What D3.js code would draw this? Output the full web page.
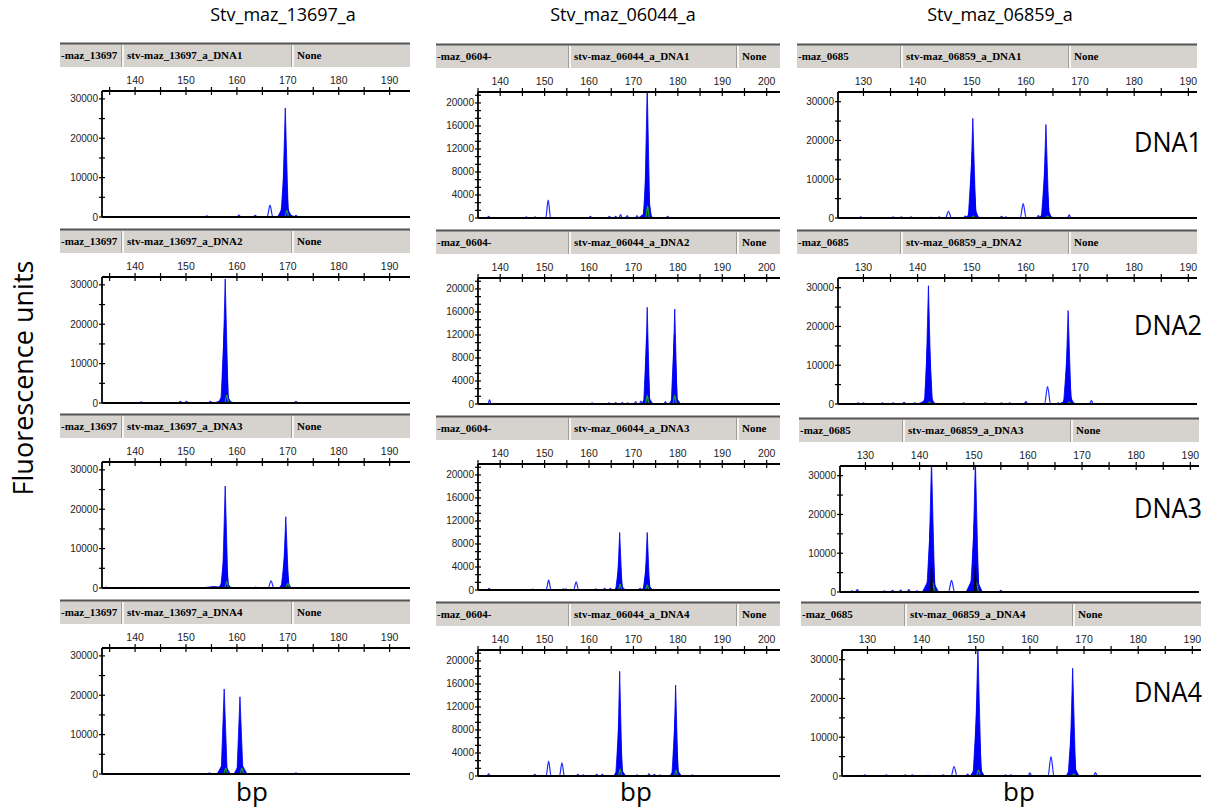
<!DOCTYPE html>
<html>
<head>
<meta charset="utf-8">
<script src="https://cdn.jsdelivr.net/npm/d3@7"></script>
<style>
  body { margin: 0; background: #fff; }
  svg { display: block; }
</style>
</head>
<body>
<div id="chart"></div>
<script>
const width = 1213;
const height = 809;

// ---- data ----
const markers = ["Stv_maz_13697_a", "Stv_maz_06044_a", "Stv_maz_06859_a"];
const samples = ["DNA1", "DNA2", "DNA3", "DNA4"];
const shortNames = ["-maz_13697", "-maz_0604-", "-maz_0685"];
const longNames = ["stv-maz_13697_a_", "stv-maz_06044_a_", "stv-maz_06859_a_"];
const bpLabels = [
  [140, 150, 160, 170, 180, 190],
  [140, 150, 160, 170, 180, 190, 200],
  [130, 140, 150, 160, 170, 180, 190]
];
const bpMinor = [
  [135, 145, 155, 165, 175, 185],
  [135, 145, 155, 165, 175, 185, 195],
  [135, 145, 155, 165, 175, 185]
];
const yLabels = [
  [0, 10000, 20000, 30000],
  [0, 4000, 8000, 12000, 16000, 20000],
  [0, 10000, 20000, 30000]
];
const yMax = [32000, 21900, 32500];
const bpRange = [[133.5, 194], [135, 203], [125.3, 191.6]];

// filled (sized) peaks: [bp, height, half-width in bp]
const filled = [
  [ // 13697
    [[169.5, 27700, 0.6], [169.4, 14000, 0.8], [169.4, 3500, 1.4], [169.6, 800, 2.0]],
    [[157.7, 31500, 0.6], [157.6, 21000, 0.75], [157.6, 3000, 1.3], [157.5, 800, 2.1]],
    [[157.7, 25900, 0.55], [157.6, 10000, 0.8], [157.6, 2000, 1.3], [155.5, 400, 2.6],
     [169.6, 18100, 0.55], [169.5, 10000, 0.8], [169.5, 2200, 1.2]],
    [[157.5, 21600, 0.6], [157.4, 3000, 1.3], [160.6, 19600, 0.6], [160.7, 3000, 1.3]]
  ],
  [ // 06044
    [[173.1, 23000, 0.6], [173.0, 10000, 0.8], [173.1, 4900, 1.0], [172.8, 1000, 1.7]],
    [[173.1, 16800, 0.55], [173.0, 12000, 0.7], [173.1, 1500, 1.3],
     [179.3, 16500, 0.55], [179.2, 12000, 0.7], [179.3, 1500, 1.3]],
    [[166.9, 10000, 0.55], [166.8, 5000, 0.8], [166.9, 1000, 1.3],
     [173.1, 10000, 0.55], [173.0, 5000, 0.8], [173.1, 1000, 1.3]],
    [[166.9, 18200, 0.55], [166.8, 10000, 0.8], [166.9, 1500, 1.4],
     [179.5, 15800, 0.55], [179.4, 10000, 0.75], [179.5, 1500, 1.3]]
  ],
  [ // 06859
    [[150.2, 25700, 0.55], [150.1, 17000, 0.75], [150.2, 3500, 1.1], [150.0, 800, 1.7],
     [163.7, 24100, 0.55], [163.6, 14000, 0.75], [163.7, 3000, 1.1], [163.6, 800, 1.6]],
    [[142.0, 30500, 0.55], [142.0, 20000, 0.75], [142.0, 3500, 1.1], [141.8, 1200, 1.7],
     [167.8, 24100, 0.55], [167.7, 14000, 0.75], [167.8, 3000, 1.1], [167.7, 1000, 1.6]],
    [[142.2, 34000, 0.6], [142.1, 20000, 0.8], [142.0, 4000, 1.5],
     [150.3, 34000, 0.6], [150.2, 20000, 0.8], [150.1, 4500, 1.5]],
    [[150.4, 33000, 0.6], [150.3, 20000, 0.8], [150.3, 3000, 1.3],
     [167.9, 27800, 0.55], [167.8, 15000, 0.75], [167.9, 3000, 1.2]]
  ]
];

// unsized blue peaks (outline only): [bp, height]
const outline = [
  [
    [[166.5, 3000], [154.1, 300], [160.4, 500], [163.6, 400], [171.6, 400]],
    [[141.2, 300], [148.9, 400], [150.1, 400], [154.8, 400], [171.6, 400]],
    [[166.7, 1800], [134.3, 200], [141.5, 150], [163.7, 200]],
    [[154.6, 300], [171.6, 300]]
  ],
  [
    [[150.8, 3100], [137.4, 300], [145.9, 200], [147.9, 200], [160.3, 300], [164.6, 300],
     [166.0, 300], [167.1, 600], [168.6, 400], [170.8, 400], [177.7, 300]],
    [[137.6, 700], [160.7, 200], [164.5, 200], [166.0, 250], [167.5, 250], [168.7, 200],
     [170.5, 400], [171.7, 500], [177.2, 400]],
    [[150.9, 1700], [157.1, 1400], [137.5, 300], [147.3, 150], [154.2, 200], [154.8, 200],
     [161.5, 200], [163.5, 300], [164.8, 300], [171.5, 300]],
    [[150.9, 2600], [153.9, 2300], [137.4, 400], [147.8, 300], [157.5, 300], [158.7, 200],
     [161.7, 300], [163.0, 300], [170.8, 200], [173.5, 400], [174.7, 300], [176.0, 200], [183.3, 200]]
  ],
  [
    [[145.7, 1700], [159.5, 3700], [168.0, 800], [129.5, 300], [135.5, 300], [137.0, 300],
     [138.8, 300], [142.5, 200], [144.0, 300], [148.8, 500], [155.5, 400], [156.3, 300], [162.3, 600]],
    [[164.0, 4500], [172.1, 900], [129.0, 300], [130.0, 300], [133.5, 300], [135.5, 300],
     [137.5, 400], [139.5, 300], [148.5, 300], [152.5, 300], [155.5, 300], [157.0, 300],
     [160.0, 600], [166.0, 300]],
    [[145.9, 3000], [127.5, 300], [128.5, 600], [133.5, 300], [135.0, 400], [136.5, 500],
     [138.0, 600], [139.5, 300], [155.0, 400]],
    [[146.0, 2400], [163.9, 5000], [172.1, 900], [160.0, 800], [129.5, 300], [133.5, 300],
     [137.0, 300], [138.3, 300], [141.2, 200], [144.0, 300], [148.5, 500], [155.5, 300], [156.5, 300]]
  ]
];

// green (size standard channel) peaks: [bp, height]
const green = [
  [[[169.8, 1700]], [[158.0, 2000]], [[158.0, 1700], [170.0, 1200]], [[157.8, 1500], [161.0, 1500]]],
  [[[173.2, 2100]], [[173.1, 1500], [179.3, 1500]], [[167.0, 1000], [173.1, 900]], [[167.0, 1200], [179.6, 1000]]],
  [[[150.3, 500], [164.0, 500]], [[142.2, 500], [168.0, 500]], [[142.4, 2500], [150.5, 2500]], [[150.5, 1500], [168.1, 500]]]
];

// black channel peaks, only seen in 06859 / DNA3
const black = [
  [[], [], [], []],
  [[], [], [], []],
  [[], [], [[142.2, 7000], [150.3, 7000]], []]
];

// ---- layout ----
const cols = [
  { x0: 102, x1: 410, hx0: 60, div: [123, 293], base: [217, 403, 588, 774], dx: [0, 0, 0, 0] },
  { x0: 478, x1: 780, hx0: 436, div: [570, 738], base: [218, 404, 590, 776], dx: [0, 0, 0, 0] },
  { x0: 838, x1: 1197, hx0: 797, div: [902, 1070], base: [218, 404, 592, 776], dx: [0, 0, 2, 4] }
];
const titleX = [283, 623, 1000];
const bpX = [252, 636, 1019];
const dnaBase = [152, 335, 518, 702];

const svg = d3.select("#chart")
  .append("svg")
  .attr("width", width)
  .attr("height", height)
  .attr("viewBox", [0, 0, width, height]);

const defs = svg.append("defs");

// column titles
svg.selectAll("text.title")
  .data(markers)
  .join("text")
  .attr("class", "title")
  .attr("x", (d, i) => titleX[i])
  .attr("y", 21)
  .attr("text-anchor", "middle")
  .style("font-family", "'Open Sans', sans-serif")
  .style("font-size", "18px")
  .text(d => d);

// y axis title
svg.append("text")
  .attr("transform", "translate(33,378) rotate(-90)")
  .attr("text-anchor", "middle")
  .style("font-family", "'Open Sans', sans-serif")
  .style("font-size", "27px")
  .text("Fluorescence units");

// bp labels
svg.selectAll("text.bp")
  .data(bpX)
  .join("text")
  .attr("class", "bp")
  .attr("x", d => d)
  .attr("y", 801)
  .attr("text-anchor", "middle")
  .style("font-family", "'Open Sans', sans-serif")
  .style("font-size", "26px")
  .text("bp");

// sample labels at the right
svg.selectAll("text.dna")
  .data(samples)
  .join("text")
  .attr("class", "dna")
  .attr("x", 1202)
  .attr("y", (d, i) => dnaBase[i])
  .attr("text-anchor", "end")
  .attr("textLength", 68)
  .attr("lengthAdjust", "spacingAndGlyphs")
  .style("font-family", "'Open Sans', sans-serif")
  .style("font-size", "27px")
  .text(d => d);

const outlineLine = (x, y) => d3.line()
  .x(d => x(d[0]))
  .y(d => y(d[1]))
  .curve(d3.curveMonotoneX);

function humpPoints(p, hw) {
  return [[p[0] - 2 * hw, 0], [p[0] - hw, 0], [p[0], p[1]], [p[0] + hw, 0], [p[0] + 2 * hw, 0]];
}

cols.forEach((c, ci) => {
  samples.forEach((s, ri) => {
    const dx = c.dx[ri];
    const base = c.base[ri];
    const top = base - 126;
    const hTop = base - 174;
    const x0 = c.x0 + dx, x1 = c.x1 + dx;

    const x = d3.scaleLinear().domain(bpRange[ci]).range([x0, x1]);
    const y = d3.scaleLinear().domain([0, yMax[ci]]).range([base, top]);

    const g = svg.append("g").attr("class", `panel c${ci} r${ri}`);

    // header bar
    const hx0 = c.hx0 + dx, hx1 = x1;
    const hdr = g.append("g");
    hdr.append("rect")
      .attr("x", hx0).attr("y", hTop)
      .attr("width", hx1 - hx0).attr("height", 24)
      .attr("fill", "#d6d3ce");
    hdr.append("line")
      .attr("x1", hx0).attr("x2", hx1)
      .attr("y1", hTop + 0.5).attr("y2", hTop + 0.5)
      .attr("stroke", "#555").attr("stroke-width", 2);
    c.div.forEach(v => {
      hdr.append("line")
        .attr("x1", v + dx).attr("x2", v + dx)
        .attr("y1", hTop + 2).attr("y2", hTop + 24)
        .attr("stroke", "#fff").attr("stroke-width", 1.5);
      hdr.append("line")
        .attr("x1", v + dx - 1.5).attr("x2", v + dx - 1.5)
        .attr("y1", hTop + 2).attr("y2", hTop + 24)
        .attr("stroke", "#a09c96").attr("stroke-width", 1);
    });
    const cells = [shortNames[ci], longNames[ci] + s, "None"];
    const cellX = [hx0 + 1, c.div[0] + dx + 4, c.div[1] + dx + 4];
    hdr.selectAll("text")
      .data(cells)
      .join("text")
      .attr("x", (d, i) => cellX[i])
      .attr("y", hTop + 16)
      .style("font-family", "'Liberation Serif', 'Times New Roman', serif")
      .style("font-weight", "bold")
      .style("font-size", "11px")
      .text(d => d);

    // clip for traces
    const clipId = `clip-${ci}-${ri}`;
    defs.append("clipPath").attr("id", clipId)
      .append("rect")
      .attr("x", x0).attr("y", top)
      .attr("width", x1 - x0).attr("height", base - top + 1);

    const traces = g.append("g").attr("clip-path", `url(#${clipId})`);

    // unsized outline peaks
    traces.selectAll("path.outline")
      .data(outline[ci][ri])
      .join("path")
      .attr("class", "outline")
      .attr("d", p => outlineLine(x, y)(humpPoints(p, p[1] > 1000 ? 0.55 : 0.35)))
      .attr("fill", "none")
      .attr("stroke", "#1f2bff")
      .attr("stroke-width", 1.2);

    // sized filled peaks
    const area = d3.area()
      .x(d => x(d[0]))
      .y0(y(0))
      .y1(d => y(d[1]));
    traces.selectAll("path.filled")
      .data(filled[ci][ri])
      .join("path")
      .attr("class", "filled")
      .attr("d", p => area([[p[0] - p[2], 0], [p[0], p[1]], [p[0] + p[2], 0]]))
      .attr("fill", "#0000f5")
      .attr("stroke", "#0000f5")
      .attr("stroke-width", 0.8);

    traces.selectAll("path.green")
      .data(green[ci][ri])
      .join("path")
      .attr("class", "green")
      .attr("d", p => outlineLine(x, y)(humpPoints(p, 0.4)))
      .attr("fill", "none")
      .attr("stroke", "#1a9a2a")
      .attr("stroke-width", 1.3);

    traces.selectAll("path.black")
      .data(black[ci][ri])
      .join("path")
      .attr("class", "black")
      .attr("d", p => d3.line().x(d => x(d[0])).y(d => y(d[1]))([[p[0] - 0.15, 0], [p[0], p[1]], [p[0] + 0.15, 0]]))
      .attr("fill", "none")
      .attr("stroke", "#000")
      .attr("stroke-width", 1.2);

    // axes
    const ax = g.append("g").attr("stroke", "#000");
    ax.append("line").attr("x1", x0).attr("x2", x1).attr("y1", base).attr("y2", base).attr("stroke-width", 2.2);
    ax.append("line").attr("x1", x0).attr("x2", x1).attr("y1", top).attr("y2", top).attr("stroke-width", 1.8);
    ax.append("line").attr("x1", x0).attr("x2", x0).attr("y1", top).attr("y2", base).attr("stroke-width", 1.8);

    // top bp axis ticks
    const bpTicks = bpLabels[ci].concat(bpMinor[ci]).filter(v => v >= bpRange[ci][0] && v <= bpRange[ci][1]);
    ax.selectAll("line.bptick")
      .data(bpTicks)
      .join("line")
      .attr("class", "bptick")
      .attr("x1", d => x(d)).attr("x2", d => x(d))
      .attr("y1", top - 4).attr("y2", top + 4)
      .attr("stroke-width", 1.2);
    g.selectAll("text.bplab")
      .data(bpLabels[ci])
      .join("text")
      .attr("class", "bplab")
      .attr("x", d => x(d))
      .attr("y", top - 7)
      .attr("text-anchor", "middle")
      .style("font-family", "'Liberation Sans', Arial, sans-serif")
      .style("font-size", "10.5px")
      .attr("fill", "#222")
      .text(d => d);

    // left fluorescence axis
    const step = yLabels[ci][1] - yLabels[ci][0];
    const nSub = ci === 1 ? 3 : 2;
    const yTicks = d3.range(0, yMax[ci] + 1, step / nSub);
    ax.selectAll("line.ytick")
      .data(yTicks)
      .join("line")
      .attr("class", "ytick")
      .attr("x1", x0 - 3).attr("x2", x0 + 3)
      .attr("y1", d => y(d)).attr("y2", d => y(d))
      .attr("stroke-width", 1.2);
    g.selectAll("text.ylab")
      .data(yLabels[ci])
      .join("text")
      .attr("class", "ylab")
      .attr("x", x0 - 4)
      .attr("y", d => y(d))
      .attr("dy", "0.35em")
      .attr("text-anchor", "end")
      .style("font-family", "'Liberation Sans', Arial, sans-serif")
      .style("font-size", "10px")
      .attr("fill", "#222")
      .text(d => d);
  });
});
</script>
</body>
</html>
